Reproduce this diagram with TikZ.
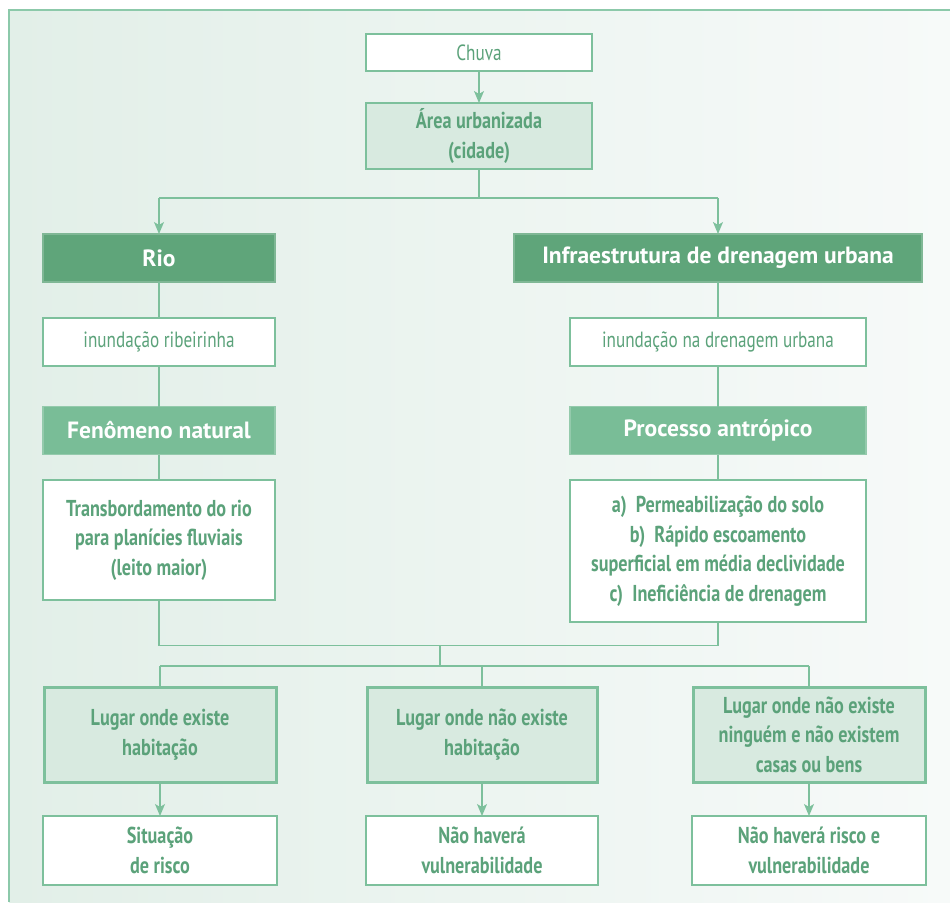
\documentclass[tikz,border=0pt]{standalone}
\usepackage{fontspec}
\setmainfont{PT Sans}
\newfontfamily\condb{PT Sans}[FakeStretch=0.79]
\newfontfamily\condr{PT Sans}[FakeStretch=0.78]
\newfontfamily\headf{PT Sans}[FakeStretch=1.0]
\usetikzlibrary{arrows.meta,calc}
\definecolor{linegreen}{RGB}{125,192,156}
\definecolor{framegreen}{RGB}{140,201,170}
\definecolor{txtgreen}{RGB}{91,162,122}
\definecolor{darkfill}{RGB}{95,165,122}
\definecolor{midfill}{RGB}{121,189,151}
\definecolor{lightfill}{RGB}{216,234,224}
\definecolor{bgleft}{RGB}{226,239,232}
\definecolor{bgright}{RGB}{247,250,249}
\tikzset{
  basebox/.style={rectangle, inner sep=0pt, outer sep=0pt, align=center, draw=linegreen, line width=1.2pt},
  whitebox/.style={basebox, fill=white, text=txtgreen, font=\condb\bfseries\fontsize{23}{29.5}\selectfont},
  plainbox/.style={basebox, fill=white, text=txtgreen, font=\condr\fontsize{22}{29}\selectfont},
  lightbox/.style={basebox, fill=lightfill, text=txtgreen, font=\condb\bfseries\fontsize{23}{29.5}\selectfont},
  thickbox/.style={lightbox, line width=3pt},
  darkbox/.style={basebox, fill=darkfill, draw=darkfill!80!white, text=white, font=\headf\bfseries\fontsize{23.5}{28}\selectfont},
  midbox/.style={basebox, fill=midfill, draw=midfill!80!white, text=white, font=\headf\bfseries\fontsize{23.5}{28}\selectfont},
  conn/.style={draw=linegreen, line width=1.3pt},
  arr/.style={conn, -{Stealth[length=12pt,width=10pt,inset=3pt]}},
}
\begin{document}
\begin{tikzpicture}[x=1pt,y=-1pt]
\useasboundingbox (0,0) rectangle (950,902);
\shade[left color=bgleft, right color=bgright] (9,10) rectangle (950,902);
\draw[framegreen, line width=1.5pt] (9,902) -- (9,10) -- (950,10);

% nodes
\node[plainbox, minimum width=226pt, minimum height=37pt] (chuva) at (479,52.5) {Chuva};
\node[lightbox, minimum width=226pt, minimum height=66pt] (area) at (479,136) {Área urbanizada\\(cidade)};

\node[darkbox, minimum width=232pt, minimum height=48pt] (rio) at (159,258) {Rio};
\node[darkbox, minimum width=408pt, minimum height=48pt] (infra) at (718,258) {Infraestrutura de drenagem urbana};

\node[plainbox, minimum width=232pt, minimum height=48pt] (inund1) at (159,342) {inundação ribeirinha};
\node[plainbox, minimum width=296pt, minimum height=48pt] (inund2) at (718,342) {inundação na drenagem urbana};

\node[midbox, minimum width=232pt, minimum height=48pt] (fen) at (159,430.5) {Fenômeno natural};
\node[midbox, minimum width=296pt, minimum height=48pt] (proc) at (718,430.5) {Processo antrópico};

\node[whitebox, minimum width=232pt, minimum height=120pt] (transb) at (159,540) {Transbordamento do rio\\para planícies fluviais\\(leito maior)};
\node[whitebox, minimum width=296pt, minimum height=142pt] (lista) at (718,551) {a)\ \ Permeabilização do solo\\b)\ \ Rápido escoamento\\superficial em média declividade\\c)\ \ Ineficiência de drenagem};

\node[thickbox, minimum width=232pt, minimum height=95pt] (lug1) at (160,734.5) {Lugar onde existe\\habitação};
\node[thickbox, minimum width=230pt, minimum height=95pt] (lug2) at (482,734.5) {Lugar onde não existe\\habitação};
\node[thickbox, minimum width=232pt, minimum height=95pt] (lug3) at (809,734.5) {Lugar onde não existe\\ninguém e não existem\\casas ou bens};

\node[whitebox, minimum width=234pt, minimum height=69pt] (res1) at (160,850.5) {Situação\\de risco};
\node[whitebox, minimum width=232pt, minimum height=69pt] (res2) at (482,850.5) {Não haverá\\vulnerabilidade};
\node[whitebox, minimum width=234pt, minimum height=69pt] (res3) at (809,850.5) {Não haverá risco e\\vulnerabilidade};

% coordinates
\coordinate (split) at (479,198);
\coordinate (merge) at (440,645.5);
\coordinate (fan) at (440,666);

% connectors
\draw[arr] (chuva) -- (area);
\draw[conn] (area.south) -- (split);
\draw[conn] (rio.north |- split) -- (infra.north |- split);
\draw[arr] (rio.north |- split) -- (rio.north);
\draw[arr] (infra.north |- split) -- (infra.north);
\draw[conn] (rio) -- (inund1);
\draw[conn] (inund1) -- (fen);
\draw[conn] (fen) -- (transb);
\draw[conn] (infra) -- (inund2);
\draw[conn] (inund2) -- (proc);
\draw[conn] (proc) -- (lista);
\draw[conn] (transb.south) -- (transb.south |- merge) -- (lista.south |- merge) -- (lista.south);
\draw[conn] (merge) -- (fan);
\draw[conn] (lug1.north |- fan) -- (lug3.north |- fan);
\draw[conn] (lug1.north |- fan) -- (lug1.north);
\draw[conn] (lug2.north |- fan) -- (lug2.north);
\draw[conn] (lug3.north |- fan) -- (lug3.north);
\draw[arr] (lug1) -- (res1);
\draw[arr] (lug2) -- (res2);
\draw[arr] (lug3) -- (res3);
\end{tikzpicture}
\end{document}
